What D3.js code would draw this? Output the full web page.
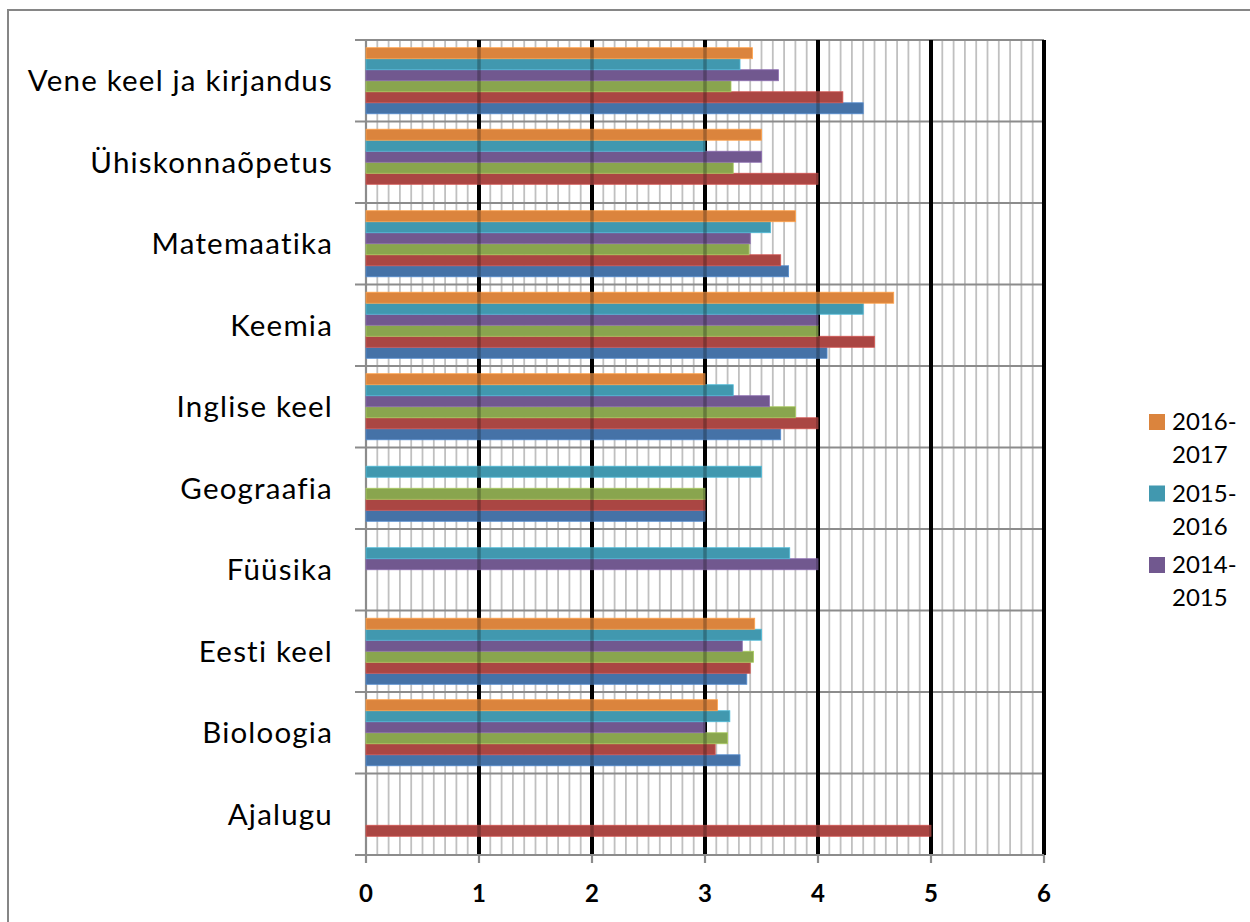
<!DOCTYPE html>
<html><head><meta charset="utf-8">
<script src="https://cdn.jsdelivr.net/npm/d3@7"></script>
<style>body{margin:0;background:#fff}svg{display:block}</style>
</head><body>
<svg id="c" width="1250" height="922"></svg>
<script>
const categories = ["Ajalugu","Bioloogia","Eesti keel","Füüsika","Geograafia","Inglise keel","Keemia","Matemaatika","Ühiskonnaõpetus","Vene keel ja kirjandus"];
const seriesNames = ["2011-2012","2012-2013","2013-2014","2014-2015","2015-2016","2016-2017"];
const s2011 = [null, 3.31, 3.37, null, 3.0, 3.67, 4.08, 3.74, null, 4.40];
const s2012 = [5.0, 3.09, 3.40, null, 3.0, 4.0, 4.5, 3.67, 4.0, 4.22];
const s2013 = [null, 3.2, 3.43, null, 3.0, 3.8, 4.0, 3.39, 3.25, 3.23];
const s2014 = [null, 3.0, 3.33, 4.0, null, 3.57, 4.0, 3.4, 3.5, 3.65];
const s2015 = [null, 3.22, 3.5, 3.75, 3.5, 3.25, 4.4, 3.58, 3.0, 3.31];
const s2016 = [null, 3.11, 3.44, null, null, 3.0, 4.67, 3.8, 3.5, 3.42];
const seriesValues = [s2011, s2012, s2013, s2014, s2015, s2016];
const colors = ["#4572A7","#AA4643","#89A54E","#71588F","#4198AF","#DB843D"];
const xTicks = [0,1,2,3,4,5,6];
const legendShown = ["2016-2017","2015-2016","2014-2015"];

const svg = d3.select("#c");
const font = "Lato, 'Open Sans', sans-serif";
const L = 366, R = 1044, T = 40, B = 855;

// chart frame
svg.append("path").attr("d","M8,922 V10 H1250").attr("fill","none").attr("stroke","#868686").attr("stroke-width",2);

const x = d3.scaleLinear().domain([0,6]).range([L,R]);
const y = d3.scaleBand().domain(categories.slice().reverse()).range([T,B]).padding(0);
const yi = d3.scaleBand().domain(d3.range(6).reverse()).range([0,y.bandwidth()]).paddingInner(0).paddingOuter(0.7);

// minor gridlines
const minor = d3.range(1,60).filter(i=>i%10!==0).map(i=>i/10);
svg.append("g").selectAll("line").data(minor).join("line")
  .attr("x1",d=>x(d)).attr("x2",d=>x(d)).attr("y1",T).attr("y2",B)
  .attr("stroke","#C0C0C0").attr("stroke-width",1.8);

// horizontal category lines
const bounds = d3.range(categories.length+1).map(i=>T + i*y.step());
svg.append("g").selectAll("line").data(bounds).join("line")
  .attr("x1",355).attr("x2",R).attr("y1",d=>d).attr("y2",d=>d)
  .attr("stroke","#8C8C8C").attr("stroke-width",2.2);

// major gridlines
svg.append("g").selectAll("line").data(xTicks.slice(1)).join("line")
  .attr("x1",d=>x(d)).attr("x2",d=>x(d)).attr("y1",T).attr("y2",B)
  .attr("stroke","#000").attr("stroke-width",4);

// left axis line
svg.append("line").attr("x1",L).attr("x2",L).attr("y1",T).attr("y2",B).attr("stroke","#8C8C8C").attr("stroke-width",2.2);

// bars
const data = [];
seriesValues.forEach((arr,si)=>arr.forEach((v,ci)=>{ if(v!=null) data.push({si,cat:categories[ci],v}); }));
svg.append("g").selectAll("rect").data(data).join("rect")
  .attr("x",x(0)).attr("y",d=>y(d.cat)+yi(d.si))
  .attr("width",d=>x(d.v)-x(0)).attr("height",yi.bandwidth())
  .attr("fill",d=>colors[d.si]).attr("stroke",d=>d3.color(colors[d.si]).brighter(0.6)).attr("stroke-width",0.8);

// major lines showing faintly through bars
svg.append("g").selectAll("line").data(xTicks.slice(1,6)).join("line")
  .attr("x1",d=>x(d)).attr("x2",d=>x(d)).attr("y1",T).attr("y2",B)
  .attr("stroke","#000").attr("stroke-width",3.5).attr("opacity",0.25);

// bottom axis
svg.append("line").attr("x1",L).attr("x2",R).attr("y1",B).attr("y2",B).attr("stroke","#8C8C8C").attr("stroke-width",2.2);
svg.append("g").selectAll("line").data(xTicks).join("line")
  .attr("x1",d=>x(d)).attr("x2",d=>x(d)).attr("y1",B).attr("y2",B+8)
  .attr("stroke","#8C8C8C").attr("stroke-width",2.2);
svg.append("g").selectAll("text").data(xTicks).join("text")
  .attr("x",d=>x(d)).attr("y",902).attr("text-anchor","middle")
  .attr("font-family",font).attr("font-weight","bold").attr("font-size",24).attr("fill","#000")
  .text(d=>d);

// category labels
svg.append("g").selectAll("text").data(categories).join("text")
  .attr("x",333).attr("y",d=>y(d)+y.bandwidth()/2+10.5).attr("text-anchor","end")
  .attr("font-family",font).attr("font-size",29.5).attr("letter-spacing","1.2px").attr("fill","#000")
  .text(d=>d);

// legend
const lg = svg.append("g");
legendShown.forEach((name,i)=>{
  const si = seriesNames.indexOf(name);
  const y0 = 414 + i*71.5;
  lg.append("rect").attr("x",1149).attr("y",y0).attr("width",16).attr("height",16).attr("fill",colors[si]);
  const parts = name.split("-");
  lg.append("text").attr("x",1172).attr("y",y0+16).attr("font-family",font).attr("font-size",24).attr("fill","#000").text(parts[0]+"-");
  lg.append("text").attr("x",1172).attr("y",y0+49).attr("font-family",font).attr("font-size",24).attr("fill","#000").text(parts[1]);
});
</script>
</body></html>
